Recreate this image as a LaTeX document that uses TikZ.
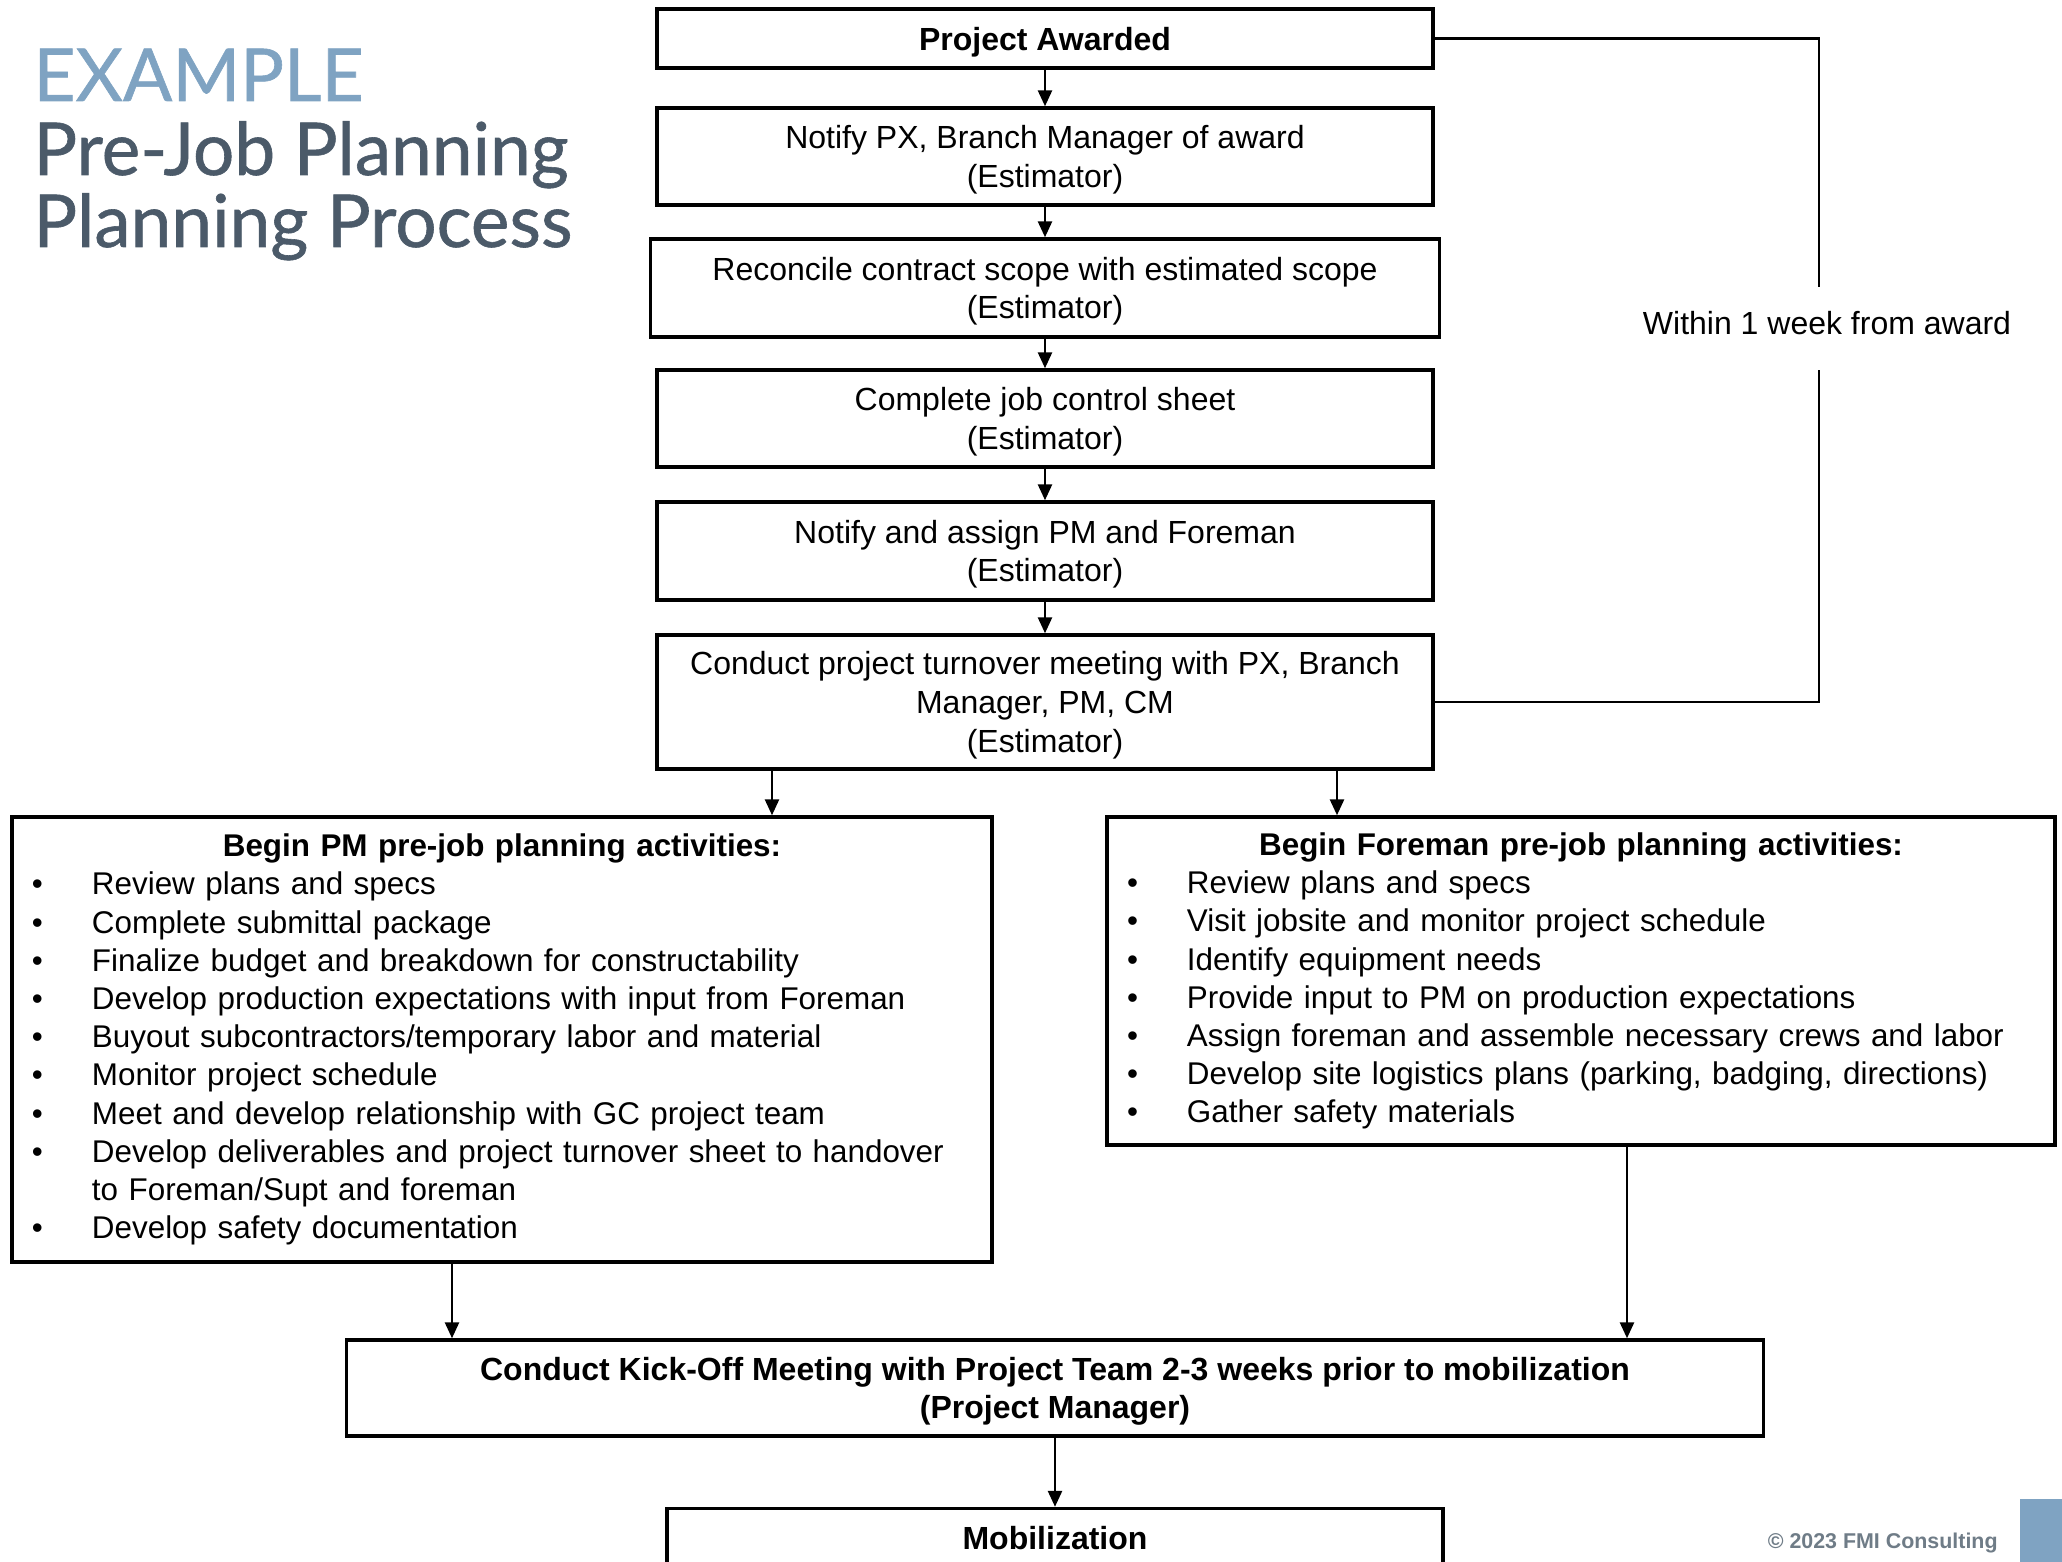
\documentclass[tikz,border=0pt]{standalone}
\usepackage{fontspec}
\setmainfont{Liberation Sans}
\newfontfamily\titlefont[FakeBold=0.8]{Lato}
\usetikzlibrary{arrows.meta}

\definecolor{exblue}{HTML}{7FA3C2}
\definecolor{exslate}{HTML}{4B5A69}
\definecolor{fmigray}{HTML}{6F7C87}

\newcommand{\boxfont}{\fontsize{16}{19.3}\selectfont}
\newcommand{\listfont}{\fontsize{15.7}{19.1}\selectfont}
\newcommand{\bul}{\makebox[30pt][l]{\textbullet}}

\begin{document}
\begin{tikzpicture}[x=0.5pt, y=-0.5pt,
	stepbox/.style={draw, line width=1.7pt, rectangle, minimum width=388pt, minimum height=48.5pt, inner sep=2pt, text depth=0pt, align=center, font=\boxfont},
	listbox/.style={draw, line width=1.7pt, rectangle, inner xsep=10pt, inner ysep=2pt, align=left, font=\listfont},
	arr/.style={-{Triangle[length=8pt,width=7pt]}, line width=1.3pt},
	brk/.style={line width=1.2pt},
	ttl/.style={anchor=base west, inner sep=0pt, font=\titlefont\fontsize{36.5}{36.5}\selectfont}]
	\useasboundingbox (0,0) rectangle (2062,1562);

	% Title
	\node[ttl, text=exblue] (ttlA) at (33,101) {EXAMPLE};
	\node[ttl, text=exslate] (ttlB) at (33,175) {Pre-Job Planning};
	\node[ttl, text=exslate] (ttlC) at (33,247) {Planning Process};

	% Estimator steps
	\node[stepbox, font=\boxfont\bfseries, minimum height=29.5pt] (award) at (1045,38.5) {Project Awarded};
	\node[stepbox] (notify) at (1045,156.5) {Notify PX, Branch Manager of award\\(Estimator)};
	\node[stepbox, minimum width=394.5pt, minimum height=49pt] (reconcile) at (1045,288) {Reconcile contract scope with estimated scope\\(Estimator)};
	\node[stepbox] (jobsheet) at (1045,418.5) {Complete job control sheet\\(Estimator)};
	\node[stepbox, minimum height=49pt] (assign) at (1045,551) {Notify and assign PM and Foreman\\(Estimator)};
	\node[stepbox, minimum height=67pt] (turnover) at (1045,702) {Conduct project turnover meeting with PX, Branch\\Manager, PM, CM\\(Estimator)};

	\draw[arr] (award) -- (notify);
	\draw[arr] (notify) -- (reconcile);
	\draw[arr] (reconcile) -- (jobsheet);
	\draw[arr] (jobsheet) -- (assign);
	\draw[arr] (assign) -- (turnover);

	% One week bracket
	\node[font=\boxfont, inner sep=0pt, minimum height=41.5pt] (within) at (1827,323.5) {Within 1 week from award};
	\draw[brk] (award.east) -| ([xshift=-4pt, yshift=-2.5pt]within.north);
	\draw[brk] ([xshift=-4pt, yshift=-2.5pt]within.south) |- (turnover.east);

	% PM activities
	\node[listbox, text width=470pt, minimum height=222.5pt] (pmlist) at (502,1039.5) {%
		\hspace*{\fill}\textbf{Begin PM pre-job planning activities:}\hspace*{\fill}\null\\
		\bul Review plans and specs\\
		\bul Complete submittal package\\
		\bul Finalize budget and breakdown for constructability\\
		\bul Develop production expectations with input from Foreman\\
		\bul Buyout subcontractors/temporary labor and material\\
		\bul Monitor project schedule\\
		\bul Meet and develop relationship with GC project team\\
		\bul Develop deliverables and project turnover sheet to handover\\
		\hspace*{30pt}to Foreman/Supt and foreman\\
		\bul Develop safety documentation};

	% Foreman activities
	\node[listbox, text width=454pt, minimum height=164pt] (fmlist) at (1581,981) {%
		\hspace*{\fill}\textbf{Begin Foreman pre-job planning activities:}\hspace*{\fill}\null\\
		\bul Review plans and specs\\
		\bul Visit jobsite and monitor project schedule\\
		\bul Identify equipment needs\\
		\bul Provide input to PM on production expectations\\
		\bul Assign foreman and assemble necessary crews and labor\\
		\bul Develop site logistics plans (parking, badging, directions)\\
		\bul Gather safety materials};

	\draw[arr] ([xshift=-136.5pt]turnover.south) -- ([xshift=-136.5pt]turnover.south |- pmlist.north);
	\draw[arr] ([xshift=146pt]turnover.south) -- ([xshift=146pt]turnover.south |- fmlist.north);

	% Kick-off and mobilization
	\node[stepbox, font=\boxfont\bfseries, minimum width=708.5pt, minimum height=48pt] (kickoff) at (1055,1388) {Conduct Kick-Off Meeting with Project Team 2-3 weeks prior to mobilization\\(Project Manager)};
	\node[stepbox, font=\boxfont\bfseries, minimum height=29.5pt] (mobil) at (1055,1538) {Mobilization};

	\draw[arr] ([xshift=-25pt]pmlist.south) -- ([xshift=-25pt]pmlist.south |- kickoff.north);
	\draw[arr] ([xshift=23pt]fmlist.south) -- ([xshift=23pt]fmlist.south |- kickoff.north);
	\draw[arr] (kickoff) -- (mobil);

	% Footer
	\node[anchor=base east, inner sep=0pt, font=\bfseries\fontsize{10.7}{12}\selectfont, text=fmigray] (copy) at (1998,1548) {© 2023 FMI Consulting};
	\fill[exblue] (2020,1499) rectangle (2062,1562);
\end{tikzpicture}
\end{document}
